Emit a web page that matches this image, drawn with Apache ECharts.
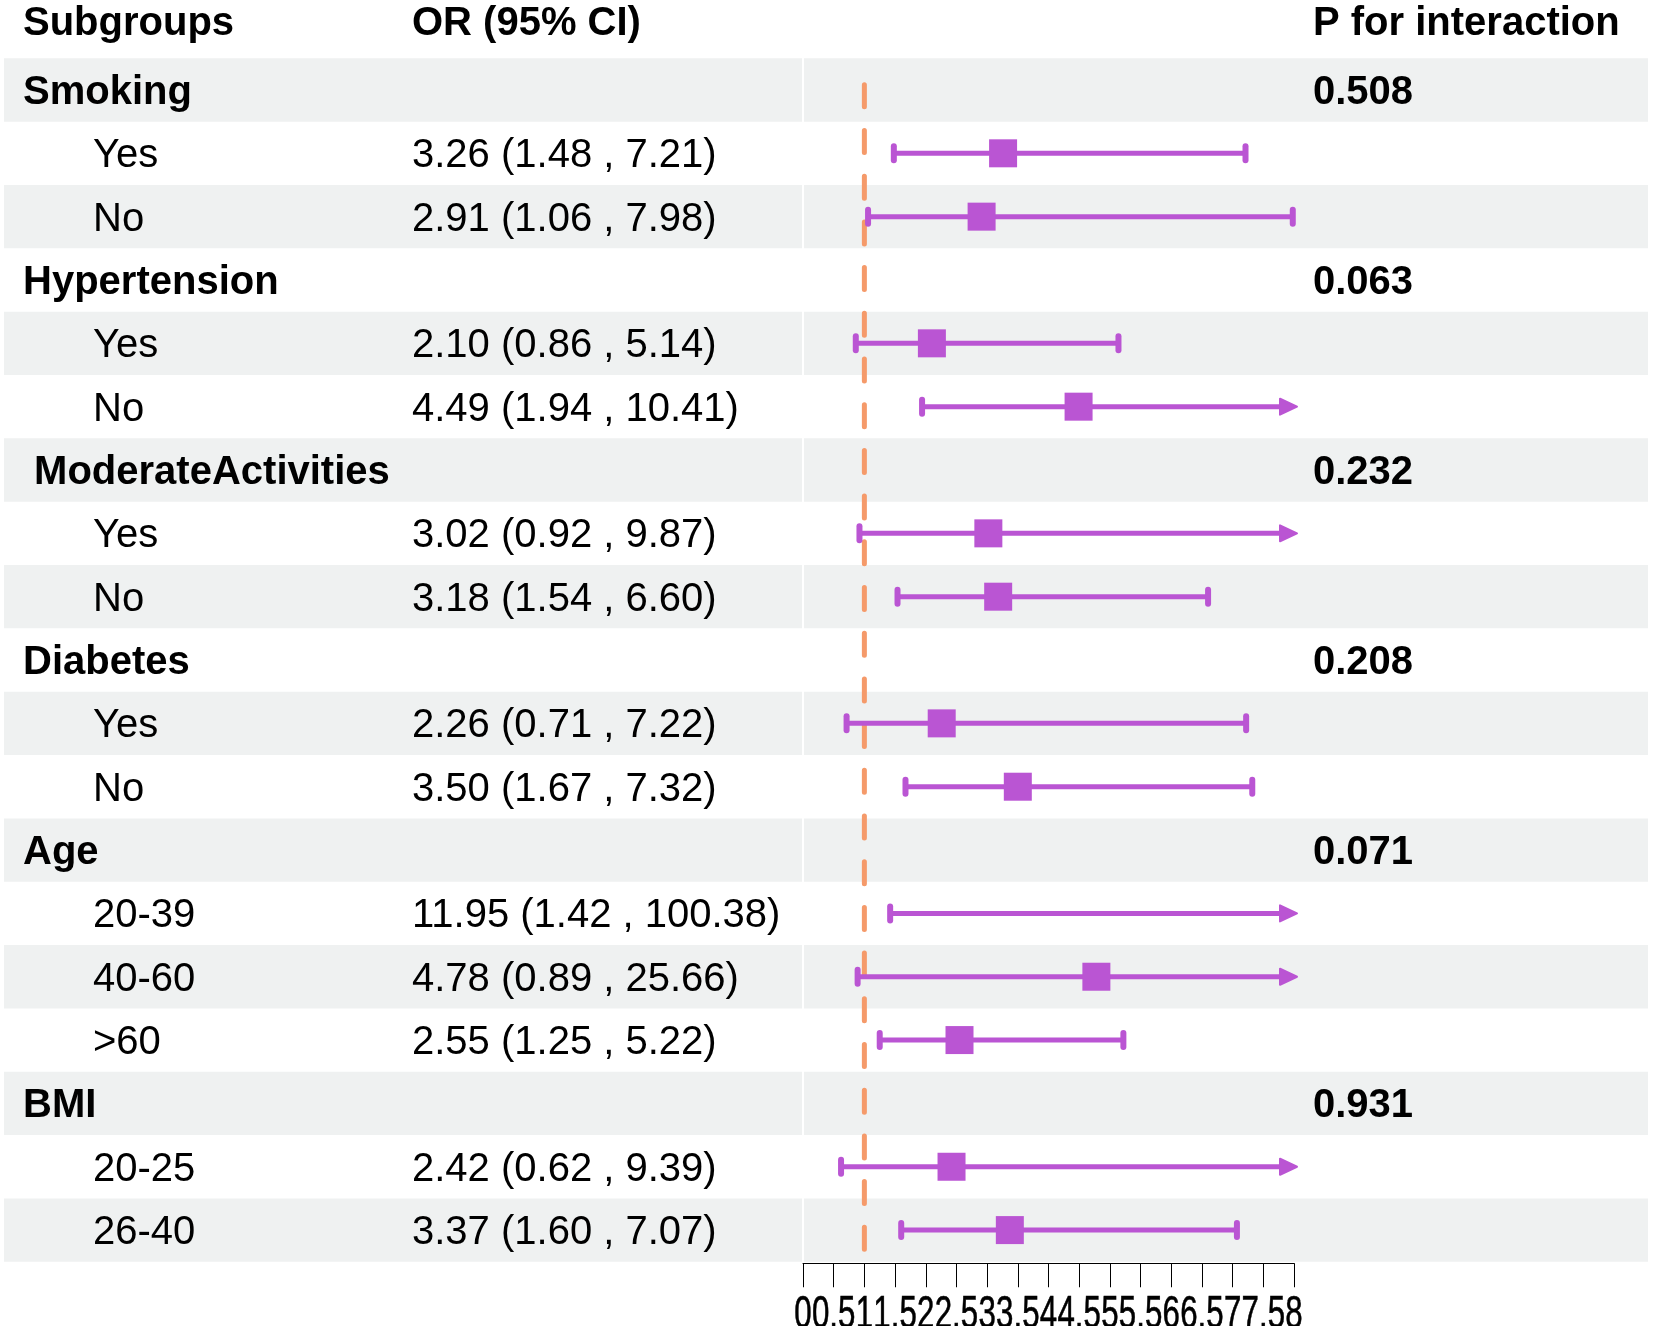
<!DOCTYPE html>
<html>
<head>
<meta charset="utf-8">
<script src="https://cdn.jsdelivr.net/npm/echarts/dist/echarts.min.js"></script>
<style>
html,body{margin:0;padding:0;background:#ffffff;}
#chart{width:1653px;height:1326px;}
</style>
</head>
<body>
<div id="chart"></div>
<script>
// ---------------- data ----------------
const subgroupLabels = ['Smoking','Yes','No','Hypertension','Yes','No',' ModerateActivities','Yes','No','Diabetes','Yes','No','Age','20-39','40-60','>60','BMI','20-25','26-40'];
const isGroupRow     = [1,0,0,1,0,0,1,0,0,1,0,0,1,0,0,0,1,0,0];
const orValues       = [null,3.26,2.91,null,2.10,4.49,null,3.02,3.18,null,2.26,3.50,null,11.95,4.78,2.55,null,2.42,3.37];
const lowerCI        = [null,1.48,1.06,null,0.86,1.94,null,0.92,1.54,null,0.71,1.67,null,1.42,0.89,1.25,null,0.62,1.60];
const upperCI        = [null,7.21,7.98,null,5.14,10.41,null,9.87,6.60,null,7.22,7.32,null,100.38,25.66,5.22,null,9.39,7.07];
const pInteraction   = ['0.508','','','0.063','','','0.232','','','0.208','','','0.071','','','','0.931','',''];
const headerLabels   = ['Subgroups','OR (95% CI)','P for interaction'];
const tickValues     = [0,0.5,1,1.5,2,2.5,3,3.5,4,4.5,5,5.5,6,6.5,7,7.5,8];
const tickLabels     = ['0','0.5','1','1.5','2','2.5','3','3.5','4','4.5','5','5.5','6','6.5','7','7.5','8'];
const refValue = 1;
const axisMin = 0, axisMax = 8, axisStep = 0.5;

// ---------------- layout / style ----------------
const FONT = '"Liberation Sans", Arial, sans-serif';
const FS = 40;
const TOP = 58.3, ROW_H = 63.34, NROWS = subgroupLabels.length;
const BODY_H = ROW_H * NROWS;
const FULL_LEFT = 4, FULL_W = 1644;
const PLOT_LEFT = 803, PLOT_W = 491;
const COL_GROUP = 23, COL_SUB = 93, COL_OR = 412, COL_P = 1313; // page px
const HEADER_Y = 24;
const TEXT_DY = 3;
const TICK_LABEL_DY = 31;
const BAND = '#eff1f1';
const PURPLE = '#ba55d3';
const ORANGE = '#f59a6a';

const orTexts = orValues.map((v, i) => v == null ? '' :
  v.toFixed(2) + ' (' + lowerCI[i].toFixed(2) + ' , ' + upperCI[i].toFixed(2) + ')');

const chart = echarts.init(document.getElementById('chart'), null, {renderer: 'canvas'});

const rowData = subgroupLabels.map((_, i) => [i]);
const forestData = orValues.map((v, i) => v == null ? null : [i, v, lowerCI[i], upperCI[i]]).filter(Boolean);
const tickData = tickValues.map((v, i) => [v, i]);

function txt(text, x, y, bold) {
  return {
    type: 'text',
    style: {
      text: text, x: x, y: y,
      fill: '#000',
      fontSize: FS, fontFamily: FONT, fontWeight: bold ? 'bold' : 'normal',
      align: 'left', verticalAlign: 'middle'
    }
  };
}

const option = {
  animation: false,
  backgroundColor: '#ffffff',
  grid: [
    {left: FULL_LEFT, top: TOP, width: FULL_W, height: BODY_H},
    {left: PLOT_LEFT, top: TOP, width: PLOT_W, height: BODY_H}
  ],
  xAxis: [
    {gridIndex: 0, type: 'value', min: 0, max: FULL_W, show: false},
    {
      gridIndex: 1, type: 'value', min: axisMin, max: axisMax, interval: axisStep,
      position: 'bottom', offset: 1.5,
      axisLine: {show: true, onZero: false, lineStyle: {color: '#000', width: 1}},
      axisTick: {show: true, length: 24, lineStyle: {color: '#000', width: 1}},
      axisLabel: {show: false},
      splitLine: {show: false}
    }
  ],
  yAxis: [
    {gridIndex: 0, type: 'value', min: 0, max: NROWS, inverse: true, show: false},
    {gridIndex: 1, type: 'value', min: 0, max: NROWS, inverse: true, show: false}
  ],
  series: [
    // alternating bands
    {
      type: 'custom', xAxisIndex: 0, yAxisIndex: 0, silent: true, z: 1,
      data: rowData,
      renderItem: function (params, api) {
        const i = api.value(0);
        if (i % 2 !== 0) return null;
        const y0 = api.coord([0, i])[1];
        const y1 = api.coord([0, i + 1])[1];
        const gap = PLOT_LEFT - FULL_LEFT;
        const xa = api.coord([0, i])[0];
        const xg = api.coord([gap - 1, i])[0];
        const xh = api.coord([gap + 1, i])[0];
        const xb = api.coord([FULL_W, i])[0];
        return {
          type: 'group',
          children: [
            {type: 'rect', shape: {x: xa, y: y0, width: xg - xa, height: y1 - y0}, style: {fill: BAND}},
            {type: 'rect', shape: {x: xh, y: y0, width: xb - xh, height: y1 - y0}, style: {fill: BAND}}
          ]
        };
      }
    },
    // row texts
    {
      type: 'custom', xAxisIndex: 0, yAxisIndex: 0, silent: true, z: 5,
      data: rowData,
      renderItem: function (params, api) {
        const i = api.value(0);
        const yc = api.coord([0, i + 0.5])[1] + TEXT_DY;
        const grp = isGroupRow[i] === 1;
        const children = [txt(subgroupLabels[i], grp ? COL_GROUP : COL_SUB, yc, grp)];
        if (orTexts[i]) children.push(txt(orTexts[i], COL_OR, yc, false));
        if (pInteraction[i]) children.push(txt(pInteraction[i], COL_P, yc, true));
        return {type: 'group', children: children};
      }
    },
    // header
    {
      type: 'custom', xAxisIndex: 0, yAxisIndex: 0, silent: true, z: 5,
      data: [[0]],
      renderItem: function () {
        return {
          type: 'group',
          children: [
            txt(headerLabels[0], COL_GROUP, HEADER_Y, true),
            txt(headerLabels[1], COL_OR, HEADER_Y, true),
            txt(headerLabels[2], COL_P, HEADER_Y, true)
          ]
        };
      }
    },
    // x-axis tick labels (overlapping, condensed as in the original)
    {
      type: 'custom', xAxisIndex: 1, yAxisIndex: 1, silent: true, z: 5, clip: false,
      data: tickData,
      renderItem: function (params, api) {
        const v = api.value(0), k = api.value(1);
        const p = api.coord([v, NROWS]);
        return {
          type: 'text',
          x: p[0], y: p[1] + TICK_LABEL_DY,
          scaleX: 0.68, scaleY: 1,
          style: {
            text: tickLabels[k], x: 0, y: 0,
            fill: '#000', fontSize: 46, fontFamily: FONT,
            align: 'center', verticalAlign: 'top',
            stroke: '#000', lineWidth: 0.6
          }
        };
      }
    },
    // reference line
    {
      type: 'custom', xAxisIndex: 1, yAxisIndex: 1, silent: true, z: 3,
      data: [[refValue]],
      renderItem: function (params, api) {
        const x = api.coord([api.value(0), 0])[0];
        const yTop = api.coord([api.value(0), 0])[1] + 26.5;
        const yBot = api.coord([api.value(0), NROWS])[1];
        return {
          type: 'line',
          shape: {x1: x, y1: yTop, x2: x, y2: yBot},
          style: {stroke: ORANGE, lineWidth: 5, lineCap: 'round', lineDash: [22, 23.7]}
        };
      }
    },
    // CI + point estimate
    {
      type: 'custom', xAxisIndex: 1, yAxisIndex: 1, silent: true, z: 4,
      data: forestData,
      renderItem: function (params, api) {
        const i = api.value(0), or = api.value(1), lo = api.value(2), up = api.value(3);
        const yc = api.coord([0, i + 0.5])[1];
        const xl = api.coord([Math.max(lo, axisMin), i])[0];
        const xu = api.coord([Math.min(up, axisMax), i])[0];
        const arrow = up > axisMax;
        const children = [];
        children.push({type: 'line', shape: {x1: xl, y1: yc, x2: arrow ? xu - 4 : xu, y2: yc},
          style: {stroke: PURPLE, lineWidth: 5}});
        children.push({type: 'line', shape: {x1: xl, y1: yc - 7, x2: xl, y2: yc + 7},
          style: {stroke: PURPLE, lineWidth: 6, lineCap: 'round'}});
        if (arrow) {
          const tip = xu + 3;
          children.push({type: 'polygon', shape: {points: [[tip, yc], [tip - 17, yc - 8], [tip - 17, yc + 8]]},
            style: {fill: PURPLE, stroke: PURPLE, lineWidth: 2, lineJoin: 'round'}});
        } else {
          children.push({type: 'line', shape: {x1: xu, y1: yc - 7, x2: xu, y2: yc + 7},
            style: {stroke: PURPLE, lineWidth: 6, lineCap: 'round'}});
        }
        if (or <= axisMax) {
          const xo = api.coord([or, i])[0];
          children.push({type: 'rect', shape: {x: xo - 14, y: yc - 14, width: 28, height: 28},
            style: {fill: PURPLE}});
        }
        return {type: 'group', children: children};
      }
    }
  ]
};
chart.setOption(option);
</script>
</body>
</html>
